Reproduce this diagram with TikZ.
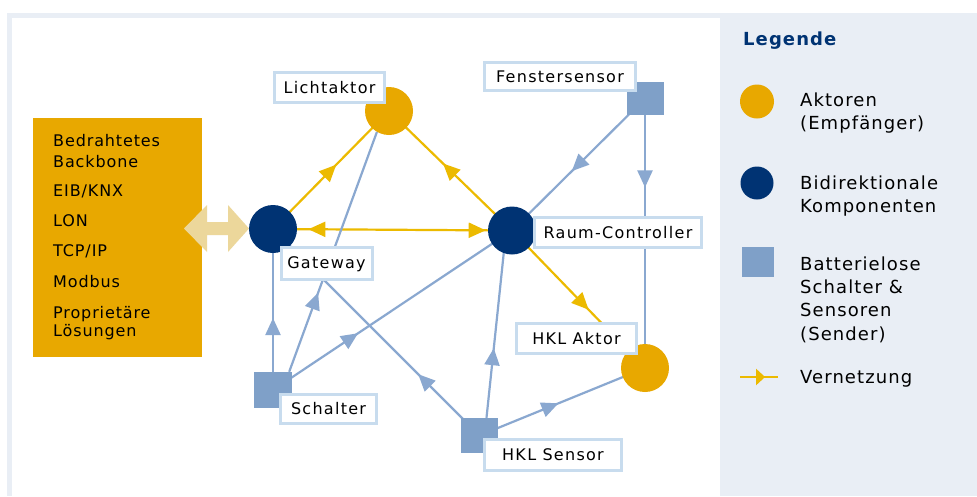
\documentclass[tikz,border=0pt]{standalone}
\usepackage{fontspec}
\setmainfont{DejaVu Sans}
\newfontfamily\labfont[LetterSpace=8]{DejaVu Sans}
\newfontfamily\boxfont[LetterSpace=5.5]{DejaVu Sans}
\newfontfamily\legfont[LetterSpace=6]{DejaVu Sans}
\usetikzlibrary{arrows.meta,decorations.markings}
\pgfdeclarelayer{back}
\pgfdeclarelayer{edges}
\pgfsetlayers{back,edges,main}
\definecolor{ygold}{RGB}{232,168,0}
\definecolor{yline}{RGB}{236,186,0}
\definecolor{navy}{RGB}{0,51,115}
\definecolor{sqblue}{RGB}{127,160,200}
\definecolor{bline}{RGB}{138,168,208}
\definecolor{lborder}{RGB}{200,220,238}
\definecolor{panel}{RGB}{233,238,245}
\definecolor{beige}{RGB}{236,215,155}
\definecolor{txt}{RGB}{0,0,0}
\begin{document}
\begin{tikzpicture}[x=1pt,y=-1pt,
  actor/.style={circle, fill=ygold, minimum size=48pt, inner sep=0pt},
  bidi/.style={circle, fill=navy, minimum size=48pt, inner sep=0pt},
  sensorbox/.style={rectangle, fill=sqblue, minimum width=37pt, minimum height=35pt, inner sep=0pt},
  ybox/.style={rectangle, fill=ygold, inner sep=0pt},
  lab/.style={rectangle, draw=lborder, line width=3pt, fill=white, inner sep=0pt,
    text height=11.7pt, text depth=0pt, text=txt,
    font=\labfont\fontsize{16pt}{19pt}\selectfont},
  boxtext/.style={anchor=base west, inner sep=0pt, text=txt, font=\boxfont\fontsize{16pt}{19pt}\selectfont},
  legtext/.style={anchor=base west, inner sep=0pt, text=txt, font=\legfont\fontsize{18pt}{22pt}\selectfont},
  yedge/.style={color=yline, line width=2.2pt},
  bedge/.style={color=bline, line width=2.2pt},
  fwd/.style={postaction={decorate, decoration={markings,
     mark=at position #1 with {\arrow{Triangle[length=17pt,width=15pt]}}}}},
  bwd/.style={postaction={decorate, decoration={markings,
     mark=at position #1 with {\arrowreversed{Triangle[length=17pt,width=15pt]}}}}},
  legarrow/.style={postaction={decorate, decoration={markings,
     mark=at position #1 with {\arrow{Triangle[length=9pt,width=16pt]}}}}}
]
\useasboundingbox (0,0) rectangle (977,496);
\begin{pgfonlayer}{back}
  \fill[panel] (7,13) rectangle (977,496);
  \fill[white] (12,18) rectangle (720,496);
\end{pgfonlayer}

% backbone box
\node[ybox, minimum width=169pt, minimum height=239pt] (backbone) at (117.5,237.5) {};
\node[boxtext] (b1) at (53,146.7) {Bedrahtetes};
\node[boxtext] (b2) at (53,167) {Backbone};
\node[boxtext] (b3) at (53,196.5) {EIB/KNX};
\node[boxtext] (b4) at (53,226) {LON};
\node[boxtext] (b5) at (53,256.5) {TCP/IP};
\node[boxtext] (b6) at (53,287.7) {Modbus};
\node[boxtext] (b7) at (53,318.3) {Proprietäre};
\node[boxtext] (b8) at (53,336) {Lösungen};

% double arrow
\fill[beige] (184,228.5) -- (207,205) -- (207,222) -- (228,222) -- (228,205) -- (249,228.5)
  -- (228,252) -- (228,235) -- (207,235) -- (207,252) -- cycle;

% components
\node[bidi] (gw) at (273,229) {};
\node[bidi] (rc) at (512,230.5) {};
\node[actor] (licht) at (389,111) {};
\node[actor] (hklakt) at (645,368) {};
\node[sensorbox, minimum height=33pt] (fs) at (645,98.5) {};
\node[sensorbox, minimum width=38pt, minimum height=36pt] (sch) at (273,390) {};
\node[sensorbox] (hkls) at (479.5,435.5) {};

% labels
\node[lab, minimum width=110pt, minimum height=30pt] (llicht) at (329.5,87.5) {Lichtaktor};
\node[lab, minimum width=151pt, minimum height=28pt] (lfs) at (560,76.5) {Fenstersensor};
\node[lab, minimum width=167pt, minimum height=30pt] (lrc) at (618,232.5) {Raum-Controller};
\node[lab, minimum width=91pt, minimum height=32pt] (lgw) at (326.5,263) {Gateway};
\node[lab, minimum width=96pt, minimum height=29pt] (lsch) at (328.5,409) {Schalter};
\node[lab, minimum width=137pt, minimum height=31pt] (lhkls) at (553,455) {HKL Sensor};
\node[lab, minimum width=120pt, minimum height=30pt] (lhkla) at (576.5,338.5) {HKL Aktor};

% connectors
\begin{pgfonlayer}{edges}
  \draw[yedge, fwd=0.545] (gw.center) -- (licht.center);
  \draw[yedge, fwd=0.561] (rc.center) -- (licht.center);
  \draw[yedge, bwd=0.148, fwd=0.89] (gw.center) -- (rc.center);
  \draw[yedge, fwd=0.576] (rc.center) -- (hklakt.center);
  \draw[bedge, fwd=0.55] (fs.center) -- (rc.center);
  \draw[bedge, fwd=0.33] (fs.center) -- (hklakt.center);
  \draw[bedge, fwd=0.447] (sch.center) -- (gw.center);
  \draw[bedge, fwd=0.33] ([xshift=-3pt]sch.north east) -- (licht.240);
  \draw[bedge, fwd=0.356] (sch.center) -- (rc.center);
  \draw[bedge, fwd=0.297] (hkls.center) -- (gw.center);
  \draw[bedge, fwd=0.423] ([xshift=7pt]hkls.north) -- (rc.250);
  \draw[bedge, fwd=0.477] (hkls.center) -- (hklakt.center);
\end{pgfonlayer}

% legend
\node[anchor=base west, inner sep=0pt, text=navy, font=\legfont\bfseries\fontsize{18pt}{22pt}\selectfont] (legtitle) at (743,45) {Legende};
\node[actor, minimum size=34pt] (lgact) at (757,101.5) {};
\node[legtext] (l1a) at (800,106.5) {Aktoren};
\node[legtext] (l1b) at (800,129.5) {(Empfänger)};
\node[bidi, minimum size=33pt] (lgbid) at (757,183) {};
\node[legtext] (l2a) at (800,189.3) {Bidirektionale};
\node[legtext] (l2b) at (800,212.5) {Komponenten};
\node[sensorbox, minimum width=32pt, minimum height=30pt] (lgsq) at (758,261.5) {};
\node[legtext] (l3a) at (800,270) {Batterielose};
\node[legtext] (l3b) at (800,293.3) {Schalter \&};
\node[legtext] (l3c) at (800,316.7) {Sensoren};
\node[legtext] (l3d) at (800,340.5) {(Sender)};
\coordinate (lgl1) at (740,377);
\coordinate (lgl2) at (778,377);
\draw[yedge, legarrow=0.66] (lgl1) -- (lgl2);
\node[legtext] (l4a) at (800,383.3) {Vernetzung};
\end{tikzpicture}
\end{document}
